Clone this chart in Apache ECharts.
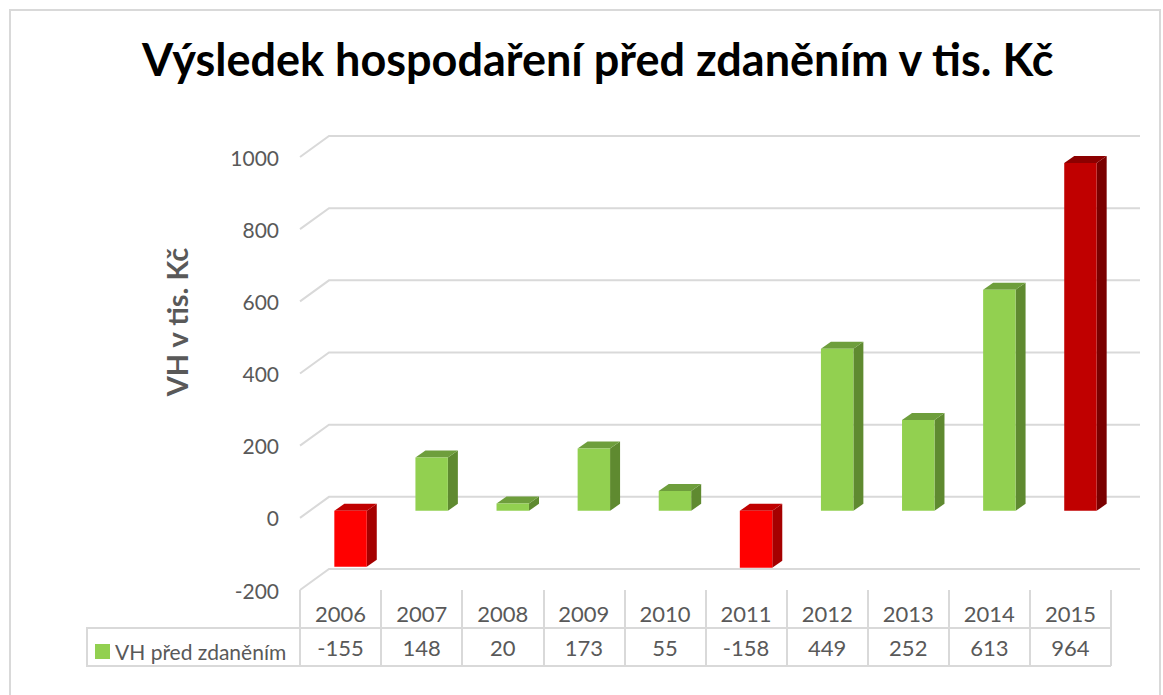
<!DOCTYPE html>
<html>
<head>
<meta charset="utf-8">
<script src="https://cdn.jsdelivr.net/npm/echarts@6/dist/echarts.min.js"></script>
<style>
  html, body { margin: 0; padding: 0; background: #fff; }
  #chart { width: 1163px; height: 695px; }
</style>
</head>
<body>
<div id="chart"></div>
<script>
var years = ['2006', '2007', '2008', '2009', '2010', '2011', '2012', '2013', '2014', '2015'];
var profit = [-155, 148, 20, 173, 55, -158, 449, 252, 613, 964];
var gridValues = [-200, 0, 200, 400, 600, 800, 1000];
var seriesName = 'VH před zdaněním';

var FONT = 'Lato';
var TEXT = '#595959';
var LINE = '#d9d9d9';

// depth of the fake 3D box
var BACK_X = 29, BACK_Y = -21;
var BAR_X = 10, BAR_Y = -7;

var maxProfit = Math.max.apply(null, profit);

function barColors(v) {
    if (v < 0) {
        return { front: '#ff0000', side: '#a50000', top: '#c00000' };
    }
    if (v === maxProfit) {
        return { front: '#c00000', side: '#7a0000', top: '#8c0000' };
    }
    return { front: '#92d050', side: '#5f8a30', top: '#6e9e3c' };
}

function renderWall(params, api) {
    var r = params.coordSys;
    var y = api.coord([0, api.value(1)])[1];
    return {
        type: 'polyline',
        shape: { points: [[r.x, y], [r.x + BACK_X, y + BACK_Y], [r.x + r.width + BACK_X, y + BACK_Y]] },
        style: { stroke: LINE, lineWidth: 2, fill: null },
        silent: true
    };
}

function renderBar(params, api) {
    var i = api.value(0);
    var v = api.value(1);
    var base = api.coord([i, 0]);
    var end = api.coord([i, v]);
    var half = api.size([1, 0])[0] * 0.2;
    var x0 = base[0] - half + BAR_X;
    var x1 = base[0] + half + BAR_X;
    var yA = Math.min(base[1], end[1]) + BAR_Y;
    var yB = Math.max(base[1], end[1]) + BAR_Y;
    var c = barColors(v);
    return {
        type: 'group',
        children: [
            {
                type: 'polygon',
                shape: { points: [[x1, yA], [x1 + BAR_X, yA + BAR_Y], [x1 + BAR_X, yB + BAR_Y], [x1, yB]] },
                style: { fill: c.side }
            },
            {
                type: 'polygon',
                shape: { points: [[x0, yA], [x0 + BAR_X, yA + BAR_Y], [x1 + BAR_X, yA + BAR_Y], [x1, yA]] },
                style: { fill: c.top }
            },
            {
                type: 'rect',
                shape: { x: x0, y: yA, width: x1 - x0, height: yB - yA },
                style: { fill: c.front }
            }
        ]
    };
}

var chart = echarts.init(document.getElementById('chart'), null, { renderer: 'svg' });

var option = {
    backgroundColor: '#fff',
    animation: false,
    title: {
        text: 'Výsledek hospodaření před zdaněním v tis. Kč',
        left: 137,
        top: 31,
        textStyle: { fontFamily: FONT, fontSize: 45, fontWeight: 'bold', color: '#000' }
    },
    legend: {
        data: [seriesName],
        left: 90,
        top: 636,
        icon: 'rect',
        itemWidth: 15,
        itemHeight: 15,
        itemGap: 5,
        selectedMode: false,
        textStyle: { fontFamily: FONT, fontSize: 21, color: TEXT }
    },
    grid: { left: 300, right: 52, top: 157, bottom: 105 },
    xAxis: {
        type: 'category',
        data: years,
        axisLine: { show: false, onZero: false },
        axisTick: { show: true, length: 76, lineStyle: { color: LINE, width: 2 } },
        axisLabel: {
            margin: 6,
            formatter: function (value, index) {
                return '{y|' + value + '}\n{v|' + profit[index] + '}';
            },
            rich: {
                y: { fontFamily: FONT, fontSize: 22, color: TEXT, lineHeight: 34 },
                v: { fontFamily: FONT, fontSize: 22, color: TEXT, lineHeight: 34 }
            }
        },
        splitLine: { show: false }
    },
    yAxis: {
        type: 'value',
        min: -200,
        max: 1000,
        interval: 200,
        axisLine: { show: false },
        axisTick: { show: false },
        splitLine: { show: false },
        axisLabel: {
            margin: 21,
            fontFamily: FONT,
            fontSize: 21,
            color: TEXT,
            formatter: function (v) { return String(v); }
        }
    },
    graphic: [
        {
            type: 'rect',
            shape: { x: 10, y: 10, width: 1150, height: 720 },
            style: { fill: null, stroke: LINE, lineWidth: 2 },
            silent: true
        },
        {
            type: 'polyline',
            shape: { points: [[1111, 628], [87, 628], [87, 666], [1111, 666]] },
            style: { fill: null, stroke: LINE, lineWidth: 2 },
            silent: true
        },
        {
            type: 'text',
            x: 176,
            y: 322,
            rotation: Math.PI / 2,
            style: {
                text: 'VH v tis. Kč',
                fontFamily: FONT,
                fontSize: 29,
                fontWeight: 'bold',
                fill: TEXT,
                align: 'center',
                verticalAlign: 'middle'
            },
            silent: true
        }
    ],
    series: [
        {
            name: 'wall',
            type: 'custom',
            renderItem: renderWall,
            data: gridValues.map(function (v) { return [0, v]; }),
            encode: { x: 0, y: 1 },
            clip: false,
            silent: true,
            z: 1
        },
        {
            name: seriesName,
            type: 'custom',
            renderItem: renderBar,
            data: profit.map(function (v, i) { return [i, v]; }),
            encode: { x: 0, y: 1 },
            itemStyle: { color: '#92d050' },
            clip: false,
            z: 2
        }
    ]
};

chart.setOption(option);
</script>
</body>
</html>
